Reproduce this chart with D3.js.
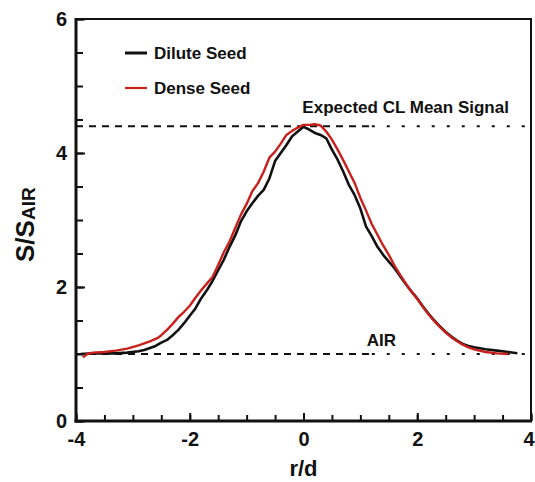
<!DOCTYPE html>
<html>
<head>
<meta charset="utf-8">
<script src="https://cdn.jsdelivr.net/npm/d3@7"></script>
<style>
html,body{margin:0;padding:0;background:#fff;}
svg{display:block;font-family:"Liberation Sans",Arial,Helvetica,sans-serif;font-weight:bold;}
</style>
</head>
<body>
<svg id="chart" width="535" height="482"></svg>
<script>
// ---- data ----
const diluteR = [-3.92,-3.7,-3.5,-3.3,-3.1,-2.9,-2.8,-2.7,-2.6,-2.5,-2.4,-2.3,-2.2,-2.1,-2.0,-1.9,-1.8,-1.7,-1.6,-1.5,-1.4,-1.3,-1.2,-1.1,-1.0,-0.9,-0.8,-0.7,-0.6,-0.5,-0.4,-0.3,-0.2,-0.1,0,0.1,0.2,0.3,0.4,0.5,0.6,0.7,0.8,0.9,1.0,1.1,1.2,1.3,1.4,1.5,1.6,1.7,1.8,1.9,2.0,2.1,2.2,2.3,2.4,2.5,2.6,2.7,2.8,2.9,3.0,3.2,3.4,3.6,3.76];
const diluteS = [1.00,1.01,1.01,1.01,1.02,1.04,1.06,1.09,1.12,1.17,1.21,1.28,1.36,1.46,1.57,1.68,1.83,1.95,2.09,2.25,2.41,2.60,2.77,2.98,3.13,3.25,3.36,3.45,3.62,3.88,4.00,4.12,4.25,4.32,4.39,4.35,4.30,4.27,4.22,4.05,3.90,3.72,3.52,3.37,3.17,2.90,2.76,2.60,2.48,2.38,2.28,2.16,2.04,1.93,1.83,1.71,1.60,1.50,1.41,1.33,1.26,1.20,1.15,1.12,1.10,1.07,1.05,1.03,1.01];
const denseR = [-3.88,-3.8,-3.7,-3.5,-3.3,-3.1,-2.9,-2.7,-2.56,-2.5,-2.4,-2.3,-2.2,-2.1,-2.0,-1.9,-1.8,-1.7,-1.6,-1.5,-1.4,-1.3,-1.2,-1.1,-1.0,-0.9,-0.8,-0.7,-0.6,-0.5,-0.4,-0.3,-0.2,-0.1,0,0.1,0.2,0.3,0.4,0.5,0.6,0.7,0.8,0.9,1.0,1.1,1.2,1.3,1.4,1.5,1.6,1.7,1.8,1.9,2.0,2.1,2.2,2.3,2.4,2.5,2.6,2.7,2.8,2.9,3.0,3.2,3.4,3.6];
const denseS = [0.95,1.00,1.02,1.03,1.05,1.08,1.13,1.19,1.24,1.28,1.36,1.45,1.55,1.63,1.72,1.84,1.95,2.05,2.15,2.33,2.52,2.68,2.88,3.08,3.24,3.43,3.55,3.72,3.93,4.02,4.14,4.27,4.33,4.38,4.42,4.42,4.43,4.41,4.32,4.20,4.05,3.89,3.72,3.55,3.33,3.14,2.94,2.78,2.62,2.48,2.32,2.18,2.05,1.93,1.82,1.70,1.59,1.49,1.40,1.32,1.25,1.19,1.14,1.10,1.07,1.03,1.01,1.00];
const seriesNames = ["Dilute Seed","Dense Seed"];
const seriesColors = ["#111111","#c8201c"];
const refLevels = [4.4, 1.0];
const refLabels = ["Expected CL Mean Signal","AIR"];
const xMajorTicks = [-4,-2,0,2,4];
const yMajorTicks = [0,2,4,6];
const xMinorTicks = d3.range(-4,4.01,0.5);
const yMinorTicks = d3.range(0,6.01,0.5);

// ---- layout ----
const svg = d3.select("#chart");
const mLeft = 76, mRight = 531, mTop = 19, mBottom = 421;
const x = d3.scaleLinear().domain([-4,4]).range([mLeft,mRight]);
const y = d3.scaleLinear().domain([0,6]).range([mBottom,mTop]);

// reference dashed lines (two dash styles)
const splitX = 1.2;
refLevels.forEach(v => {
  svg.append("line").attr("x1",x(-4)).attr("x2",x(splitX)).attr("y1",y(v)).attr("y2",y(v))
    .attr("stroke","#111").attr("stroke-width",2).attr("stroke-dasharray","7,6");
  svg.append("line").attr("x1",x(splitX)).attr("x2",x(4)).attr("y1",y(v)).attr("y2",y(v))
    .attr("stroke","#111").attr("stroke-width",2).attr("stroke-dasharray","3,12");
});
svg.append("text").attr("x",x(-0.02)).attr("y",y(4.4)-13).attr("font-size",17).attr("fill","#111").text(refLabels[0]);
svg.append("text").attr("x",x(1.11)).attr("y",y(1.0)-8).attr("font-size",17).attr("fill","#111").text(refLabels[1]);

// curves
const line = d3.line().x(d=>x(d[0])).y(d=>y(d[1])).curve(d3.curveLinear);
const dense = denseR.map((r,i)=>[r,denseS[i]]);
const dilute = diluteR.map((r,i)=>[r,diluteS[i]]);
svg.append("path").datum(dilute).attr("d",line).attr("fill","none").attr("stroke",seriesColors[0]).attr("stroke-width",2.6).attr("stroke-linejoin","round");
svg.append("path").datum(dense).attr("d",line).attr("fill","none").attr("stroke",seriesColors[1]).attr("stroke-width",2.4).attr("stroke-linejoin","round");

// axes
function styleAxis(g){
  g.select(".domain").remove();
  g.selectAll(".tick line").attr("stroke","#111").attr("stroke-width",2);
  g.selectAll(".tick text").attr("fill","#111").attr("font-size",20).attr("font-weight","bold").attr("font-family","Liberation Sans, Arial, sans-serif");
}
svg.append("g").attr("transform",`translate(0,${mBottom})`)
  .call(d3.axisBottom(x).tickValues(xMinorTicks).tickSize(-6).tickFormat("")).call(styleAxis);
const xMajor = svg.append("g").attr("transform",`translate(0,${mBottom})`)
  .call(d3.axisBottom(x).tickValues(xMajorTicks).tickSize(-8).tickPadding(11).tickFormat(d=>String(d))).call(styleAxis);
xMajor.selectAll(".tick text").filter(d=>d===4).attr("dx",-2.5);
svg.append("g").attr("transform",`translate(${mLeft},0)`)
  .call(d3.axisLeft(y).tickValues(yMinorTicks).tickSize(-7).tickFormat("")).call(styleAxis);
svg.append("g").attr("transform",`translate(${mLeft},0)`)
  .call(d3.axisLeft(y).tickValues(yMajorTicks).tickSize(-9).tickPadding(9).tickFormat(d=>String(d))).call(styleAxis);

// frame
svg.append("line").attr("x1",mLeft).attr("x2",mLeft).attr("y1",mTop-1).attr("y2",mBottom+1.5).attr("stroke","#111").attr("stroke-width",3);
svg.append("line").attr("x1",mLeft-1.5).attr("x2",mRight+1).attr("y1",mBottom).attr("y2",mBottom).attr("stroke","#111").attr("stroke-width",3);
svg.append("line").attr("x1",mLeft).attr("x2",mRight+1).attr("y1",mTop).attr("y2",mTop).attr("stroke","#111").attr("stroke-width",2);
svg.append("line").attr("x1",mRight).attr("x2",mRight).attr("y1",mTop).attr("y2",mBottom).attr("stroke","#111").attr("stroke-width",2);

// legend
seriesNames.forEach((name,i) => {
  const ly = 53 + i*35;
  svg.append("line").attr("x1",125).attr("x2",147).attr("y1",ly).attr("y2",ly)
    .attr("stroke",seriesColors[i]).attr("stroke-width",i===0?3:2.2);
  svg.append("text").attr("x",154).attr("y",ly+6).attr("font-size",17).attr("fill","#111").text(name);
});

// axis titles
svg.append("text").attr("x",x(0)).attr("y",476).attr("text-anchor","middle").attr("font-size",22).attr("fill","#111").text("r/d");
const yt = svg.append("text").attr("transform","translate(34,262) rotate(-90)").attr("fill","#111");
yt.append("tspan").attr("font-size",26).text("S/S");
yt.append("tspan").attr("font-size",19).attr("dy",1).text("AIR");
</script>
</body>
</html>
